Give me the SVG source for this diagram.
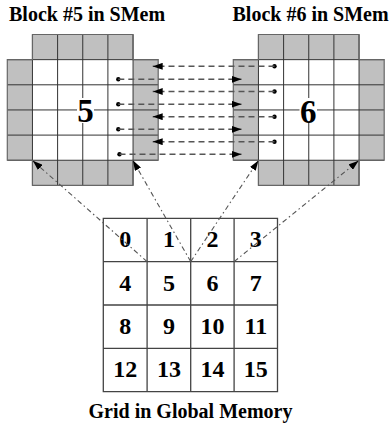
<svg xmlns="http://www.w3.org/2000/svg" width="391" height="429" viewBox="0 0 391 429">
<style>
text{font-family:'Liberation Serif','DejaVu Serif',serif;font-weight:bold;fill:#000}
.title{font-size:20px}
.big{font-size:33px;text-anchor:middle}
.num{font-size:24px;text-anchor:middle}
.halo{fill:#c0c0c0;stroke:none}
.inner{fill:#fff;stroke:none}
.gl{stroke:#333;stroke-width:1;fill:none}
.ol{stroke:#666;stroke-width:1.2;fill:none}
.gg{stroke:#444;stroke-width:1.3;fill:none}
.dash{stroke:#555;stroke-width:1.5;stroke-dasharray:6,4;fill:none}
.dd{stroke:#555;stroke-width:1.1;stroke-dasharray:5,3,1.5,3;fill:none}
</style>
<defs>
<marker id="ah" viewBox="0 0 10 7" refX="10" refY="3.5" markerWidth="10" markerHeight="7" orient="auto" markerUnits="userSpaceOnUse"><path d="M0,0 L10,3.5 L0,7 z" fill="#000"/></marker>
<g id="blk">
<rect class="halo" x="25.15" y="0" width="100.6" height="25.15"/>
<rect class="halo" x="25.15" y="125.75" width="100.6" height="25.15"/>
<rect class="halo" x="0" y="25.15" width="25.15" height="100.6"/>
<rect class="halo" x="125.75" y="25.15" width="25.15" height="100.6"/>
<rect class="inner" x="25.15" y="25.15" width="100.6" height="100.6"/>
<path class="gl" d="M25.15,0V150.9M50.3,0V150.9M75.45,0V150.9M100.6,0V150.9M125.75,0V150.9M0,25.15H150.9M0,50.3H150.9M0,75.45H150.9M0,100.6H150.9M0,125.75H150.9"/>
<path class="ol" d="M25.15,0H125.75V25.15H150.9V125.75H125.75V150.9H25.15V125.75H0V25.15H25.15Z"/>
</g>
</defs>
<text class="title" x="9" y="21" font-family="Liberation Serif, serif">Block #5 in SMem</text>
<text class="title" x="232.5" y="21" font-family="Liberation Serif, serif">Block #6 in SMem</text>
<g id="block5">
<use href="#blk" x="7.3" y="34.5"/>
<rect x="77" y="98" width="17" height="25" fill="#fff"/>
<text class="big" x="85.5" y="122">5</text>
<circle cx="118.3" cy="79.3" r="2.2"/>
<circle cx="118.3" cy="104.2" r="2.2"/>
<circle cx="118.3" cy="129.3" r="2.2"/>
<circle cx="119.5" cy="154.3" r="2.2"/>
</g>
<g id="block6">
<use href="#blk" x="233.3" y="34.5"/>
<rect x="299.5" y="98" width="17.5" height="25" fill="#fff"/>
<text class="big" x="308.3" y="122.5">6</text>
<circle cx="274.5" cy="66.3" r="2.2"/>
<circle cx="274.5" cy="91.5" r="2.2"/>
<circle cx="274.5" cy="116.7" r="2.2"/>
<circle cx="274.5" cy="141.7" r="2.2"/>
</g>
<g id="grid">
<rect x="103.3" y="218.3" width="174.2" height="173.4" fill="#fff"/>
<path class="gg" d="M103.3,218.3H277.5V391.7H103.3Z M147.1,218.3V391.7M190.7,218.3V391.7M234.1,218.3V391.7M103.3,261.6H277.5M103.3,305H277.5M103.3,348.4H277.5"/>
<text class="num" x="125.3" y="247.3">0</text>
<text class="num" x="168.9" y="247.3">1</text>
<text class="num" x="212.4" y="247.3">2</text>
<text class="num" x="255.8" y="247.3">3</text>
<text class="num" x="125.3" y="290.7">4</text>
<text class="num" x="168.9" y="290.7">5</text>
<text class="num" x="212.4" y="290.7">6</text>
<text class="num" x="255.8" y="290.7">7</text>
<text class="num" x="125.3" y="334">8</text>
<text class="num" x="168.9" y="334">9</text>
<text class="num" x="212.4" y="334">10</text>
<text class="num" x="255.8" y="334">11</text>
<text class="num" x="125.3" y="377.4">12</text>
<text class="num" x="168.9" y="377.4">13</text>
<text class="num" x="212.4" y="377.4">14</text>
<text class="num" x="255.8" y="377.4">15</text>
</g>
<text class="title" x="190.5" y="418" text-anchor="middle">Grid in Global Memory</text>
<g id="connectors">
<path class="dash" d="M274.5,66.3H152.7" marker-end="url(#ah)"/>
<path class="dash" d="M274.5,91.5H152.7" marker-end="url(#ah)"/>
<path class="dash" d="M274.5,116.7H152.7" marker-end="url(#ah)"/>
<path class="dash" d="M274.5,141.7H152.7" marker-end="url(#ah)"/>
<path class="dash" d="M118.3,79.3H241.5" marker-end="url(#ah)"/>
<path class="dash" d="M118.3,104.2H241.5" marker-end="url(#ah)"/>
<path class="dash" d="M118.3,129.3H241.5" marker-end="url(#ah)"/>
<path class="dash" d="M119.5,154.3H241.5" marker-end="url(#ah)"/>
<path class="dd" d="M147.1,261.6L32.8,160.8" marker-end="url(#ah)"/>
<path class="dd" d="M190.7,261.6L133,160.6" marker-end="url(#ah)"/>
<path class="dd" d="M190.7,261.6L258.4,160.6" marker-end="url(#ah)"/>
<path class="dd" d="M234.1,261.6L358.5,160.8" marker-end="url(#ah)"/>
</g>
</svg>
